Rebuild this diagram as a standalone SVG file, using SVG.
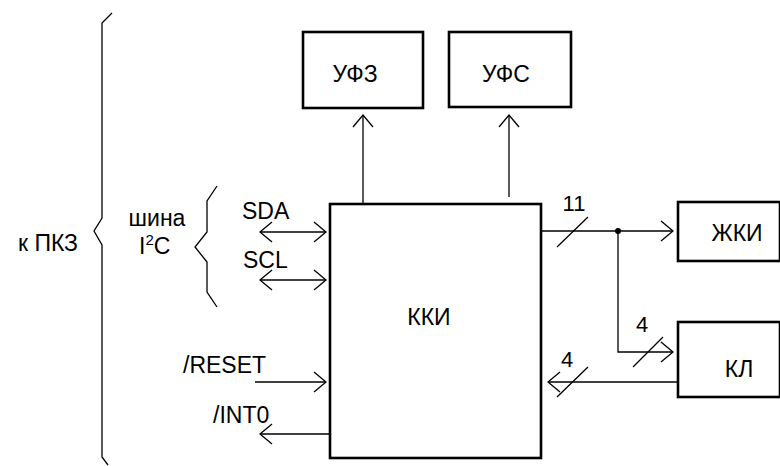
<svg xmlns="http://www.w3.org/2000/svg" width="780" height="466" viewBox="0 0 780 466">
<defs>
<style>
.box{fill:#fff;stroke:#000;stroke-width:2.6}
.ln{fill:none;stroke:#000;stroke-width:1.3}
.t{font-family:"Liberation Sans",Arial,sans-serif;font-size:23px;fill:#000}
.n{font-family:"Liberation Sans",Arial,sans-serif;font-size:22px;fill:#000}
.m{text-anchor:middle}
</style>
<marker id="arr" viewBox="-13 -11 14 22" refX="0" refY="0" markerWidth="14" markerHeight="22" markerUnits="userSpaceOnUse" orient="auto-start-reverse">
<path d="M-12,-10 L0,0 L-12,10" fill="none" stroke="#000" stroke-width="1.3"/>
</marker>
</defs>
<rect width="780" height="466" fill="#fff"/>

<g id="braces">
<polyline class="ln" points="112,13 102,23 102,218 94,231 102,245 102,457 108,465"/>
<polyline class="ln" points="217,186 207,201 207,232 195,247 207,262 207,292 217,307"/>
<text class="t" x="18" y="251">к ПКЗ</text>
<text class="t m" x="157" y="226">шина</text>
<text class="t" x="139" y="254">I<tspan font-size="15" dy="-9">2</tspan><tspan dy="9">C</tspan></text>
</g>

<g id="connectors">
<path class="ln" d="M260,232 H326" marker-start="url(#arr)" marker-end="url(#arr)"/>
<path class="ln" d="M260,280 H326" marker-start="url(#arr)" marker-end="url(#arr)"/>
<path class="ln" d="M255,382 H326" marker-end="url(#arr)"/>
<path class="ln" d="M329,434 H260" marker-end="url(#arr)"/>
<path class="ln" d="M363,204 V115" marker-end="url(#arr)"/>
<path class="ln" d="M509,197 V115" marker-end="url(#arr)"/>
<path class="ln" d="M541,231 H673" marker-end="url(#arr)"/>
<path class="ln" d="M618,231 V352 H673" marker-end="url(#arr)"/>
<path class="ln" d="M677,382 H548" marker-end="url(#arr)"/>
<path class="ln" d="M557,247 L588,217 M633,367 L663,337 M557,397 L588,367"/>
<circle cx="618" cy="231" r="3" fill="#000"/>
<text class="t" x="242" y="219">SDA</text>
<text class="t" x="243" y="268">SCL</text>
<text class="t" x="183" y="373">/RESET</text>
<text class="t" x="213" y="423">/INT0</text>
<text class="n m" x="574" y="211">11</text>
<text class="n m" x="642" y="332">4</text>
<text class="n m" x="567" y="367">4</text>
</g>

<g id="ufz">
<rect class="box" x="303" y="32" width="120" height="76"/>
<text class="t m" x="355" y="82">УФЗ</text>
</g>
<g id="ufs">
<rect class="box" x="449" y="32" width="122" height="75"/>
<text class="t m" x="506" y="82">УФС</text>
</g>
<g id="kki">
<rect class="box" x="330" y="204" width="211" height="254"/>
<text class="t m" x="429" y="325">ККИ</text>
</g>
<g id="zhki">
<rect class="box" x="678" y="202" width="102" height="59"/>
<text class="t m" x="737" y="241">ЖКИ</text>
</g>
<g id="kl">
<rect class="box" x="678" y="322" width="102" height="75"/>
<text class="t m" x="739" y="377">КЛ</text>
</g>
</svg>
